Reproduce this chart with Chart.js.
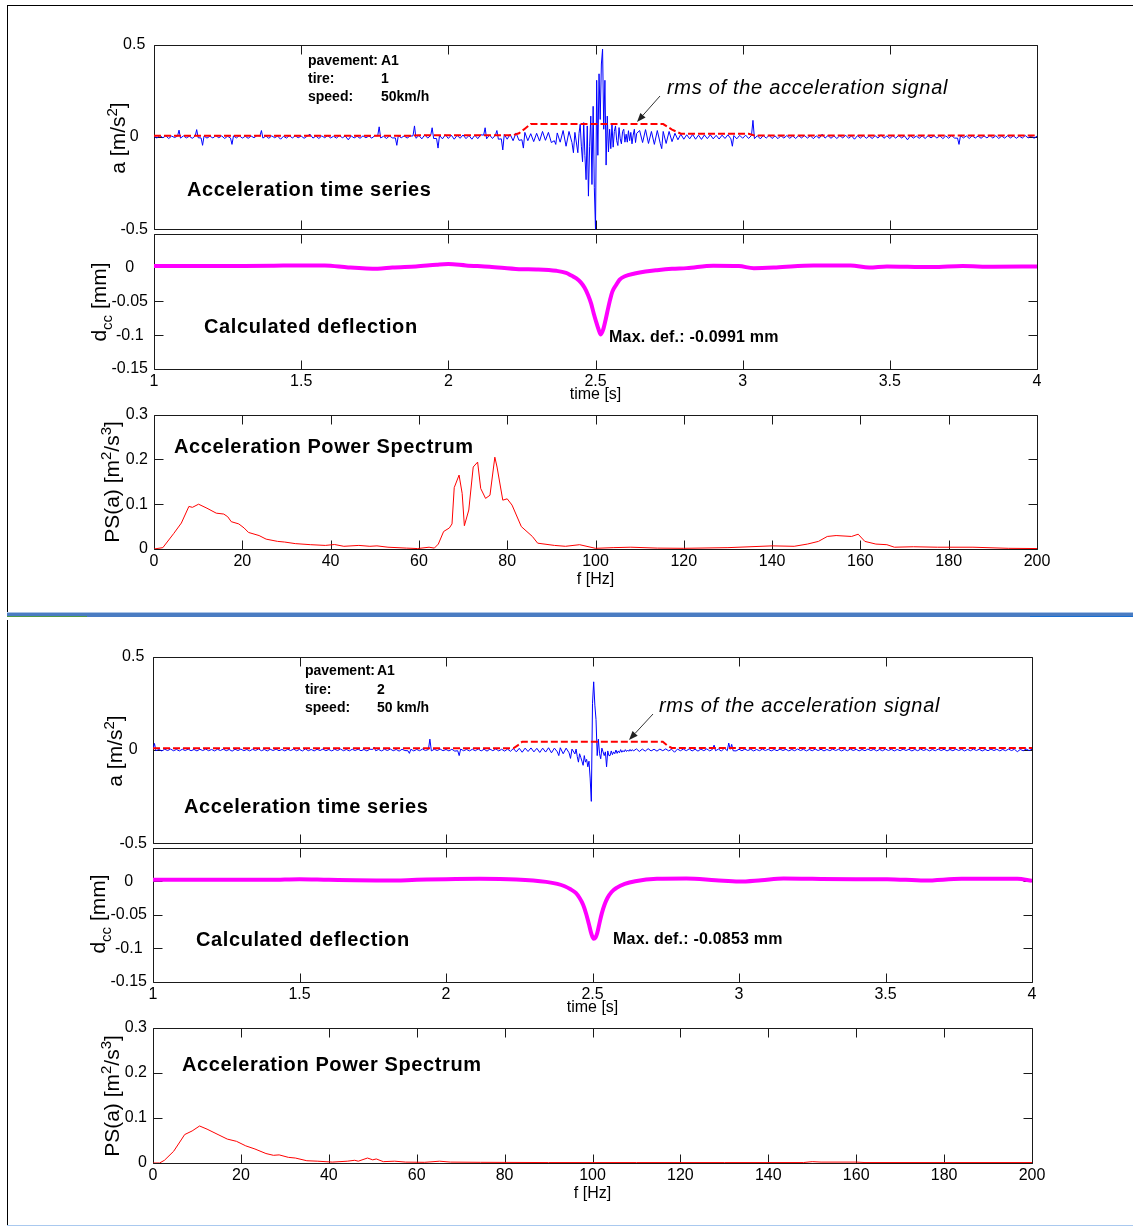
<!DOCTYPE html>
<html>
<head>
<meta charset="utf-8">
<script src="https://cdn.jsdelivr.net/npm/chart.js@4/dist/chart.umd.min.js"></script>
<style>
html,body{margin:0;padding:0;background:#fff;}
#page{position:relative;width:1133px;height:1227px;overflow:hidden;background:#fff;font-family:"Liberation Sans",Arial,sans-serif;color:#000;}
canvas{position:absolute;left:0;}
.t{position:absolute;white-space:nowrap;transform:translateY(-50%);line-height:1;z-index:5;}
.big{font-size:20px;font-weight:bold;letter-spacing:0.6px;}
.info{font-size:14px;font-weight:bold;}
.rms{font-size:20px;font-style:italic;letter-spacing:0.7px;}
.max{font-size:16px;font-weight:bold;letter-spacing:0.2px;}
.yt{position:absolute;white-space:nowrap;font-size:21px;line-height:1;transform:translate(-50%,-50%) rotate(-90deg);z-index:5;}
.yt sup,.yt sub{font-size:15px;}
.ln{position:absolute;z-index:6;}
svg{position:absolute;left:0;top:0;z-index:6;}
</style>
</head>
<body>
<div id="page">
  <div class="ln" style="left:7px;top:5px;width:1126px;height:1px;background:#000"></div>
  <div class="ln" style="left:7px;top:5px;width:1px;height:607px;background:#000"></div>
  <div class="ln" style="left:7px;top:612px;width:1126px;height:1px;background:#a9c3e6"></div>
  <div class="ln" style="left:7px;top:613px;width:1126px;height:4px;background:#4a7cc2"></div>
  <div class="ln" style="left:7px;top:616px;width:80px;height:1px;background:#4f9a48"></div>
  <div class="ln" style="left:1030px;top:616px;width:103px;height:1px;background:#1a6fd0"></div>
  <div class="ln" style="left:7px;top:620px;width:1px;height:605px;background:#000"></div>
  <div class="ln" style="left:7px;top:1225px;width:1126px;height:1px;background:#a9c9ef"></div>

  <div class="t info" style="left:308px;top:60px">pavement:</div>
  <div class="t info" style="left:381px;top:60px">A1</div>
  <div class="t info" style="left:308px;top:78px">tire:</div>
  <div class="t info" style="left:381px;top:78px">1</div>
  <div class="t info" style="left:308px;top:96px">speed:</div>
  <div class="t info" style="left:381px;top:96px">50km/h</div>
  <div class="t rms" style="left:667px;top:87px">rms of the acceleration signal</div>
  <div class="t big" style="left:187px;top:189px">Acceleration time series</div>
  <div class="t big" style="left:204px;top:326px">Calculated deflection</div>
  <div class="t max" style="left:609px;top:337px">Max. def.: -0.0991 mm</div>
  <div class="t big" style="left:174px;top:446px">Acceleration Power Spectrum</div>
  <div class="yt" style="left:116px;top:138px">a [m/s<sup>2</sup>]</div>
  <div class="yt" style="left:101px;top:302px">d<sub>cc</sub> [mm]</div>
  <div class="yt" style="left:110px;top:482px">PS(a) [m<sup>2</sup>/s<sup>3</sup>]</div>

  <div class="t info" style="left:305px;top:670px">pavement:</div>
  <div class="t info" style="left:377px;top:670px">A1</div>
  <div class="t info" style="left:305px;top:689px">tire:</div>
  <div class="t info" style="left:377px;top:689px">2</div>
  <div class="t info" style="left:305px;top:707px">speed:</div>
  <div class="t info" style="left:377px;top:707px">50 km/h</div>
  <div class="t rms" style="left:659px;top:705px">rms of the acceleration signal</div>
  <div class="t big" style="left:184px;top:806px">Acceleration time series</div>
  <div class="t big" style="left:196px;top:939px">Calculated deflection</div>
  <div class="t max" style="left:613px;top:939px">Max. def.: -0.0853 mm</div>
  <div class="t big" style="left:182px;top:1064px">Acceleration Power Spectrum</div>
  <div class="yt" style="left:113px;top:751px">a [m/s<sup>2</sup>]</div>
  <div class="yt" style="left:100px;top:914px">d<sub>cc</sub> [mm]</div>
  <div class="yt" style="left:110px;top:1096px">PS(a) [m<sup>2</sup>/s<sup>3</sup>]</div>
</div>
<script>
// ---------------- tick labels ----------------
const timeTicks = [1, 1.5, 2, 2.5, 3, 3.5, 4];
const timeTickLabels = ['1', '1.5', '2', '2.5', '3', '3.5', '4'];
const freqTicks = [0, 20, 40, 60, 80, 100, 120, 140, 160, 180, 200];
const freqTickLabels = ['0', '20', '40', '60', '80', '100', '120', '140', '160', '180', '200'];
const accTicks = [-0.5, 0, 0.5];
const accTickLabels = ['-0.5', '0', '0.5'];
const defTicks = [-0.15, -0.1, -0.05, 0, 0.05];
const defTickLabels = ['-0.15', '-0.1', '-0.05', '0', ''];
const psTicks = [0, 0.1, 0.2, 0.3];
const psTickLabels = ['0', '0.1', '0.2', '0.3'];

// ---------------- panel 1 (tire 1) ----------------
// acceleration background noise, 1.00-2.43 s every 0.01 s
const acc1Pre = [
  0.004,-0.006,0.008,-0.004,0.006,-0.008,0.005,-0.003,0.005,-0.006,
  0.006,-0.005,0.004,-0.007,0.005,-0.004,-0.005,0.005,-0.006,0.004,
  -0.005,0.007,-0.004,0.006,-0.008,0.004,-0.006,0.006,-0.005,0.007,
  -0.006,0.004,-0.007,0.005,-0.004,0.008,0.006,-0.006,0.005,-0.007,
  0.006,-0.004,0.005,-0.012,0.004,-0.006,0.007,-0.005,0.006,-0.004,
  0.005,-0.007,0.004,0.015,-0.006,0.005,-0.008,0.006,-0.004,0.007,
  -0.005,0.004,-0.006,0.008,-0.004,0.005,-0.015,0.006,-0.005,0.004,
  -0.007,0.006,-0.004,0.005,-0.006,0.007,0.006,-0.005,0.004,-0.008,
  0.006,-0.005,-0.005,0.007,-0.004,0.006,-0.006,0.005,0.006,-0.007,
  0.008,-0.01,0.012,-0.006,0.008,-0.008,-0.008,0.009,-0.01,0.012,
  -0.008,0.01,-0.012,0.009,-0.007,0.011,-0.009,0.008,-0.012,0.01,
  -0.009,0.012,0.01,-0.01,0.011,-0.008,0.01,-0.012,-0.01,0.014,
  -0.012,0.015,-0.02,0.022,-0.018,-0.015,0.025,-0.02,0.018,-0.025,
  0.02,-0.022,0.03,-0.018,0.025,-0.03,-0.02,0.022,-0.028,0.035,
  -0.05,0.03,-0.03,0.025
];
// acceleration burst, 2.440-2.640 s every 0.004 s
const acc1Burst = [
  -0.085,0.02,0.069,-0.05,-0.134,0.078,-0.10,-0.231,0.06,-0.32,
  -0.05,0.113,-0.257,0.166,-0.275,-0.50,0.307,-0.099,0.342,0.095,
  0.395,0.476,0.042,0.307,-0.152,0.113,-0.081,0.042,-0.063,0.069,
  -0.055,0.03,0.06,-0.02,-0.046,0.051,-0.01,-0.037,0.03,0.042,
  -0.028,0.015,-0.028,0.034,-0.02,0.025,-0.037,0.01,0.042,-0.03,
  0.02
];
// acceleration background noise, 2.65-4.00 s every 0.01 s
const acc1Post = [
  0.035,-0.03,0.04,-0.035,0.03,-0.04,
  0.035,-0.035,0.03,-0.035,0.03,-0.025,0.02,-0.015,0.015,-0.012,
  0.012,-0.01,0.014,-0.012,0.01,-0.013,0.011,-0.009,0.012,-0.01,
  0.009,-0.011,0.01,-0.008,0.012,-0.01,0.008,-0.01,0.009,-0.007,
  0.01,-0.008,0.008,-0.009,0.007,-0.01,0.008,-0.006,0.009,-0.008,
  0.006,-0.009,0.007,-0.006,0.008,-0.007,0.006,-0.008,0.007,-0.005,
  0.008,-0.006,0.007,-0.009,0.006,-0.007,0.015,-0.006,0.008,-0.007,
  0.006,-0.008,0.007,-0.005,0.009,-0.007,0.006,-0.012,0.007,-0.006,
  0.008,-0.007,0.005,-0.008,0.007,-0.006,0.012,-0.007,0.006,-0.008,
  0.007,-0.006,0.008,-0.005,0.006,-0.015,0.007,-0.006,0.005,-0.007,
  0.006,-0.008,0.007,-0.005,0.008,-0.006,0.007,-0.009,0.006,-0.007,
  0.008,-0.006,-0.006,0.007,-0.005,0.006,-0.008,0.007,-0.006,0.005,
  -0.007,0.006,-0.005,0.008,-0.006,0.007,-0.008,0.005,-0.006,0.007,
  -0.005,0.006,-0.007,0.005,-0.006,0.008,-0.005,0.006,-0.007,0.005
];
// isolated spikes (time, value)
const acc1SpikeTime = [1.085,1.145,1.165,1.265,1.365,1.765,1.825,1.885,1.945,1.965,2.125,2.165,2.185,2.255,2.365,2.425,2.725,2.965,3.035,3.735];
const acc1SpikeVal  = [0.037,0.04,-0.045,-0.04,0.035,0.055,-0.045,0.06,0.05,-0.06,0.05,0.035,-0.07,-0.06,-0.04,-0.085,-0.063,-0.05,0.09,-0.04];
const rms1Time = [1.0, 1.88, 1.9, 2.22, 2.24, 2.26, 2.28, 2.73, 2.76, 2.79, 3.02, 3.04, 4.0];
const rms1Val  = [0.007, 0.007, 0.01, 0.01, 0.02, 0.045, 0.07, 0.07, 0.04, 0.018, 0.018, 0.008, 0.008];
const def1Time = [1.0,1.1,1.2,1.3,1.4,1.5,1.58,1.66,1.76,1.81,1.89,1.96,2.0,2.06,2.14,2.24,2.3,2.367,
  2.4,2.418,2.435,2.45,2.463,2.475,2.485,2.494,2.502,2.51,2.518,2.526,2.534,2.542,2.55,2.557,2.57,2.582,
  2.6,2.633,2.67,2.709,2.76,2.81,2.9,2.987,3.038,3.114,3.24,3.367,3.43,3.49,3.56,3.646,3.747,3.85,4.0];
const def1Val = [0.002,0.002,0.002,0.0022,0.0025,0.003,0.003,0.0,-0.002,0.0,0.0015,0.004,0.005,0.003,0.001,-0.0025,-0.003,-0.005,
  -0.008,-0.012,-0.016,-0.022,-0.03,-0.041,-0.053,-0.068,-0.08,-0.091,-0.099,-0.092,-0.078,-0.062,-0.047,-0.036,-0.026,-0.018,
  -0.013,-0.009,-0.006,-0.004,-0.002,-0.001,0.0025,0.002,-0.001,0.0,0.003,0.003,0.0,0.0015,0.001,0.0005,0.002,0.001,0.0015];
const ps1Freq = [0,2,4.5,6.2,7.9,8.7,10.1,12,14.1,15.8,16.7,17.5,19.2,20.4,21.4,23.8,25.4,28,29.6,32,
  35.5,38.8,40.9,43,46.4,48.9,50.5,53,57.2,59.7,62.3,63.5,64.4,65.6,66.9,67.5,68,69.1,69.8,70.3,
  71.3,72.3,73.3,74,75.1,76.1,77.2,77.7,79,80,81.1,83.2,85.7,86.9,90.7,93.2,96.4,100,104,108,
  114,120,130,140,145,148,150.5,152.5,154.5,158,159.5,161,163.5,166,167.7,172,177.5,185.5,193.5,200];
const ps1Val = [0,0.003,0.035,0.058,0.095,0.093,0.1,0.091,0.08,0.078,0.072,0.061,0.056,0.047,0.037,0.03,0.022,0.017,0.0155,0.012,
  0.0096,0.008,0.01,0.006,0.008,0.006,0.007,0.004,0.002,0.001,0.004,0.002,0.011,0.039,0.047,0.056,0.137,0.165,0.124,0.052,
  0.087,0.183,0.194,0.135,0.113,0.12,0.205,0.183,0.109,0.112,0.098,0.05,0.028,0.013,0.008,0.006,0.0096,0.0015,0.003,0.004,
  0.002,0.0015,0.003,0.007,0.006,0.011,0.017,0.028,0.03,0.028,0.033,0.017,0.011,0.0096,0.004,0.005,0.004,0.004,0.0015,0.001];

// ---------------- panel 2 (tire 2) ----------------
const acc2Pre = [
  0.004,-0.004,0.003,-0.005,0.004,-0.003,0.005,-0.004,0.003,-0.005,
  0.004,-0.003,0.005,-0.004,0.003,-0.005,0.004,-0.003,0.005,-0.004,
  0.003,-0.005,0.004,-0.003,0.005,-0.004,0.003,-0.006,0.004,-0.003,
  0.005,-0.004,0.003,-0.005,0.004,-0.003,0.006,-0.004,0.003,-0.005,
  0.004,-0.003,0.005,-0.004,0.003,-0.005,0.004,-0.003,0.005,-0.004,
  0.003,-0.005,0.006,-0.004,0.003,-0.005,0.004,-0.003,0.005,-0.004,
  0.003,-0.005,0.004,-0.003,0.005,-0.004,0.003,-0.005,0.004,-0.003,
  0.005,-0.004,0.003,-0.005,0.004,0.003,-0.004,0.003,-0.005,0.004,
  -0.003,0.005,-0.004,0.003,-0.006,0.004,-0.003,-0.004,0.004,-0.005,
  0.003,-0.004,0.005,-0.003,0.003,-0.005,0.004,-0.003,0.005,-0.004,
  0.003,-0.005,0.004,-0.006,-0.004,0.005,-0.004,0.003,-0.005,0.004,
  -0.004,0.006,-0.005,0.004,-0.006,0.005,-0.004,0.006,-0.005,0.004,
  -0.006,0.005,-0.007,0.008,-0.01,0.009,-0.012,0.01,-0.008,0.011,
  -0.01,0.009,-0.013,0.01,-0.011,0.012,-0.015,0.01,-0.01,0.012,
  -0.02,0.01,-0.015,0.005
];
const acc2Burst = [
  -0.021,0.005,-0.035,-0.065,-0.02,-0.04,-0.06,-0.082,-0.03,-0.065,
  -0.05,-0.09,-0.06,-0.15,-0.275,0.25,0.365,0.24,0.163,-0.03,
  0.058,-0.02,-0.047,0.01,-0.01,-0.03,-0.01,-0.09,-0.005,-0.03,
  -0.03,-0.005,-0.025,-0.01,-0.02,0.0,-0.018,-0.005,-0.015,0.002,
  -0.012,-0.003,-0.01,0.002,-0.008,0.0,-0.007,0.003,-0.006,0.002,
  -0.005
];
const acc2Post = [
  0.006,-0.008,0.005,-0.006,0.007,-0.005,
  0.004,-0.006,0.005,-0.004,0.006,-0.005,0.004,-0.012,0.005,-0.004,
  0.005,-0.004,0.006,-0.005,0.004,-0.006,0.005,-0.004,0.006,-0.005,
  0.004,-0.004,0.005,-0.006,0.01,-0.004,0.004,-0.004,-0.005,0.004,
  -0.004,0.005,-0.003,0.004,-0.005,0.003,-0.004,0.005,-0.003,0.004,
  -0.005,0.003,-0.004,0.005,-0.003,0.004,-0.005,0.003,-0.004,0.005,
  -0.003,0.004,-0.005,0.003,-0.004,0.005,-0.003,0.004,-0.005,0.003,
  -0.004,0.005,-0.003,0.004,-0.005,0.003,-0.004,0.005,-0.003,0.004,
  -0.005,0.003,-0.004,0.005,-0.003,0.004,-0.005,0.003,-0.004,0.005,
  -0.003,0.004,-0.005,0.003,-0.004,0.005,-0.003,0.004,-0.005,0.003,
  -0.004,0.005,-0.003,0.004,-0.005,0.003,-0.004,0.005,-0.003,0.004,
  -0.005,0.003,-0.004,0.005,-0.003,0.004,-0.005,0.003,-0.004,0.005,
  -0.003,0.004,-0.005,0.003,-0.004,0.005,-0.003,0.004,-0.005,0.003,
  -0.004,0.005,-0.003,0.004,-0.009,0.003,-0.004,0.005,-0.003,0.004
];
const acc2SpikeTime = [1.005,1.755,1.875,1.945,2.045,2.385,2.425,2.915,2.965,2.975];
const acc2SpikeVal  = [0.035,0.015,-0.018,0.058,-0.03,-0.03,-0.045,0.026,0.037,0.03];
const rms2Time = [1.0, 2.23, 2.245, 2.26, 2.74, 2.755, 2.77, 4.0];
const rms2Val  = [0.009, 0.009, 0.025, 0.044, 0.044, 0.025, 0.011, 0.011];
const def2Time = [1.0,1.2,1.4,1.5,1.6,1.8,1.9,2.0,2.114,2.24,2.342,2.38,2.405,2.425,2.443,2.456,2.468,2.478,
  2.487,2.496,2.504,2.51,2.516,2.524,2.532,2.541,2.551,2.565,2.582,2.61,2.646,2.72,2.82,2.92,3.0,3.076,
  3.152,3.25,3.4,3.506,3.633,3.76,3.95,4.0];
const def2Val = [0.002,0.002,0.002,0.003,0.002,0.001,0.002,0.003,0.0035,0.0025,-0.001,-0.004,-0.0075,-0.012,-0.0175,-0.025,-0.035,-0.048,
  -0.0625,-0.078,-0.0855,-0.084,-0.0775,-0.062,-0.0475,-0.035,-0.025,-0.016,-0.01,-0.004,0.0,0.0035,0.004,0.0015,-0.0005,0.0015,
  0.004,0.0035,0.003,0.003,0.001,0.0035,0.0035,0.0005];
const ps2Freq = [0,1.5,2.6,4.7,6.4,7.2,8.9,10.6,12.3,14.8,16.9,19,21.1,23.2,25.7,27.4,28.7,30.8,32.4,35,
  37.5,40.8,44.2,45.9,46.7,48.8,50,50.8,52.4,55,57.5,61.8,65.2,67.7,74.5,90,110,130,148,150,
  152,160,162,180,200];
const ps2Val = [0,0,0.006,0.026,0.051,0.063,0.071,0.082,0.075,0.063,0.053,0.048,0.038,0.031,0.021,0.017,0.018,0.0125,0.011,0.005,
  0.004,0.002,0.004,0.006,0.004,0.011,0.007,0.009,0.003,0.004,0.002,0.0015,0.004,0.002,0.0015,0.001,0.001,0.001,0.001,0.003,
  0.002,0.002,0.001,0.001,0.001];

// ---------------- helpers ----------------
const FONT = '"Liberation Sans", Arial, sans-serif';
function seg(start, step, vals) {
  return vals.map((v, i) => ({x: +(start + step * i).toFixed(4), y: v}));
}
function zip(xs, ys) { return xs.map((x, i) => ({x: x, y: ys[i]})); }
function merge(...parts) { return [].concat(...parts).sort((a, b) => a.x - b.x); }

const acc1 = merge(seg(1.00, 0.01, acc1Pre), seg(2.44, 0.004, acc1Burst), seg(2.65, 0.01, acc1Post), zip(acc1SpikeTime, acc1SpikeVal));
const acc2 = merge(seg(1.00, 0.01, acc2Pre), seg(2.44, 0.004, acc2Burst), seg(2.65, 0.01, acc2Post), zip(acc2SpikeTime, acc2SpikeVal));

const TICK = 9;
const boxTicks = {
  id: 'boxTicks',
  beforeDatasetsDraw(chart) {
    const {ctx, chartArea: a} = chart;
    const xs = chart.scales.x, ys = chart.scales.y;
    const L = Math.round(a.left) + 0.5, R = Math.round(a.right) + 0.5;
    const T = Math.round(a.top) + 0.5, B = Math.round(a.bottom) + 0.5;
    ctx.save();
    ctx.strokeStyle = '#1a1a1a';
    ctx.lineWidth = 1;
    ctx.beginPath();
    ctx.rect(L, T, R - L, B - T);
    xs.ticks.forEach(t => {
      const p = Math.round(xs.getPixelForValue(t.value)) + 0.5;
      ctx.moveTo(p, B); ctx.lineTo(p, B - TICK);
      ctx.moveTo(p, T); ctx.lineTo(p, T + TICK);
    });
    ys.ticks.forEach(t => {
      const p = Math.round(ys.getPixelForValue(t.value)) + 0.5;
      ctx.moveTo(L, p); ctx.lineTo(L + TICK, p);
      ctx.moveTo(R, p); ctx.lineTo(R - TICK, p);
    });
    ctx.stroke();
    ctx.restore();
  }
};

const page = document.getElementById('page');
function makePlot(cfg) {
  const PT = 15, PB = 12, YW = 80;
  const H = PT + (cfg.bottom - cfg.top) + cfg.xh + PB;
  const cv = document.createElement('canvas');
  cv.width = 1133; cv.height = H;
  cv.style.top = (cfg.top - PT) + 'px';
  cv.style.width = '1133px'; cv.style.height = H + 'px';
  page.appendChild(cv);
  new Chart(cv, {
    type: 'line',
    data: {datasets: cfg.datasets},
    options: {
      responsive: false, animation: false, devicePixelRatio: 1, events: [],
      layout: {padding: {left: cfg.left - YW, right: 1133 - cfg.right, top: PT, bottom: PB}},
      plugins: {legend: {display: false}, tooltip: {enabled: false}, title: {display: false}},
      elements: {point: {radius: 0}},
      scales: {
        x: {
          type: 'linear', min: cfg.xMin, max: cfg.xMax,
          afterBuildTicks: s => { s.ticks = cfg.xTicks.map(v => ({value: v})); },
          afterFit: s => { s.height = cfg.xh; },
          grid: {display: false, drawTicks: false},
          border: {display: false},
          ticks: {display: cfg.showX, autoSkip: false, maxRotation: 0, minRotation: 0, padding: 3,
                  color: '#000', font: {family: FONT, size: 16},
                  callback: (v, i) => cfg.xLabels[i]},
          title: {display: !!cfg.xTitle, text: cfg.xTitle || '', color: '#000',
                  font: {family: FONT, size: 16}, padding: {top: 0, bottom: 0}}
        },
        y: {
          type: 'linear', min: cfg.yMin, max: cfg.yMax,
          afterBuildTicks: s => { s.ticks = cfg.yTicks.map(v => ({value: v})); },
          afterFit: s => { s.width = YW; },
          grid: {display: false, drawTicks: false},
          border: {display: false},
          ticks: {autoSkip: false, padding: 6, crossAlign: cfg.yAlign, color: '#000',
                  font: {family: FONT, size: 16},
                  callback: (v, i) => cfg.yLabels[i]}
        }
      }
    },
    plugins: [boxTicks]
  });
}

function accSets(rms, acc) {
  return [
    {data: rms, borderColor: '#ff0000', borderWidth: 2, borderDash: [7, 3], tension: 0, fill: false},
    {data: acc, borderColor: '#0000ff', borderWidth: 1, tension: 0, fill: false}
  ];
}
function defSets(def) {
  return [{data: def, borderColor: '#ff00ff', borderWidth: 4, cubicInterpolationMode: 'monotone', fill: false}];
}
function psSets(ps) {
  return [{data: ps, borderColor: '#ff0000', borderWidth: 1, tension: 0, fill: false}];
}

const panels = [
  {acc: {top: 44, bottom: 233}, def: {top: 233, bottom: 369}, ps: {top: 414, bottom: 549}, left: 154, right: 1037,
   rms: zip(rms1Time, rms1Val), a: acc1, d: zip(def1Time, def1Val), p: zip(ps1Freq, ps1Val)},
  {acc: {top: 656, bottom: 847}, def: {top: 847, bottom: 982}, ps: {top: 1027, bottom: 1163}, left: 153, right: 1032,
   rms: zip(rms2Time, rms2Val), a: acc2, d: zip(def2Time, def2Val), p: zip(ps2Freq, ps2Val)}
];

panels.forEach(P => {
  makePlot({top: P.acc.top, bottom: P.acc.bottom, left: P.left, right: P.right,
    xMin: 1, xMax: 4, xTicks: timeTicks, xLabels: timeTickLabels, showX: false, xh: 0,
    yMin: -0.5, yMax: 0.5, yTicks: accTicks, yLabels: accTickLabels, yAlign: 'center',
    datasets: accSets(P.rms, P.a)});
  makePlot({top: P.def.top, bottom: P.def.bottom, left: P.left, right: P.right,
    xMin: 1, xMax: 4, xTicks: timeTicks, xLabels: timeTickLabels, showX: true, xh: 35, xTitle: 'time [s]',
    yMin: -0.15, yMax: 0.05, yTicks: defTicks, yLabels: defTickLabels, yAlign: 'center',
    datasets: defSets(P.d)});
  makePlot({top: P.ps.top, bottom: P.ps.bottom, left: P.left, right: P.right,
    xMin: 0, xMax: 200, xTicks: freqTicks, xLabels: freqTickLabels, showX: true, xh: 40, xTitle: 'f [Hz]',
    yMin: 0, yMax: 0.3, yTicks: psTicks, yLabels: psTickLabels, yAlign: 'near',
    datasets: psSets(P.p)});
});

// annotation arrows
const NS = 'http://www.w3.org/2000/svg';
const svg = document.createElementNS(NS, 'svg');
svg.setAttribute('width', '1133'); svg.setAttribute('height', '1227');
page.appendChild(svg);
function arrow(x1, y1, x2, y2) {
  const dx = x2 - x1, dy = y2 - y1, len = Math.hypot(dx, dy), ux = dx / len, uy = dy / len;
  const bx = x2 - ux * 9, by = y2 - uy * 9, nx = -uy, ny = ux;
  const l = document.createElementNS(NS, 'line');
  l.setAttribute('x1', x1); l.setAttribute('y1', y1); l.setAttribute('x2', bx); l.setAttribute('y2', by);
  l.setAttribute('stroke', '#333'); l.setAttribute('stroke-width', '1');
  svg.appendChild(l);
  const p = document.createElementNS(NS, 'polygon');
  p.setAttribute('points', `${x2},${y2} ${bx + nx * 3.5},${by + ny * 3.5} ${bx - nx * 3.5},${by - ny * 3.5}`);
  p.setAttribute('fill', '#222');
  svg.appendChild(p);
}
arrow(660, 96, 637, 122);
arrow(653, 714, 629, 740);
</script>
</body>
</html>
